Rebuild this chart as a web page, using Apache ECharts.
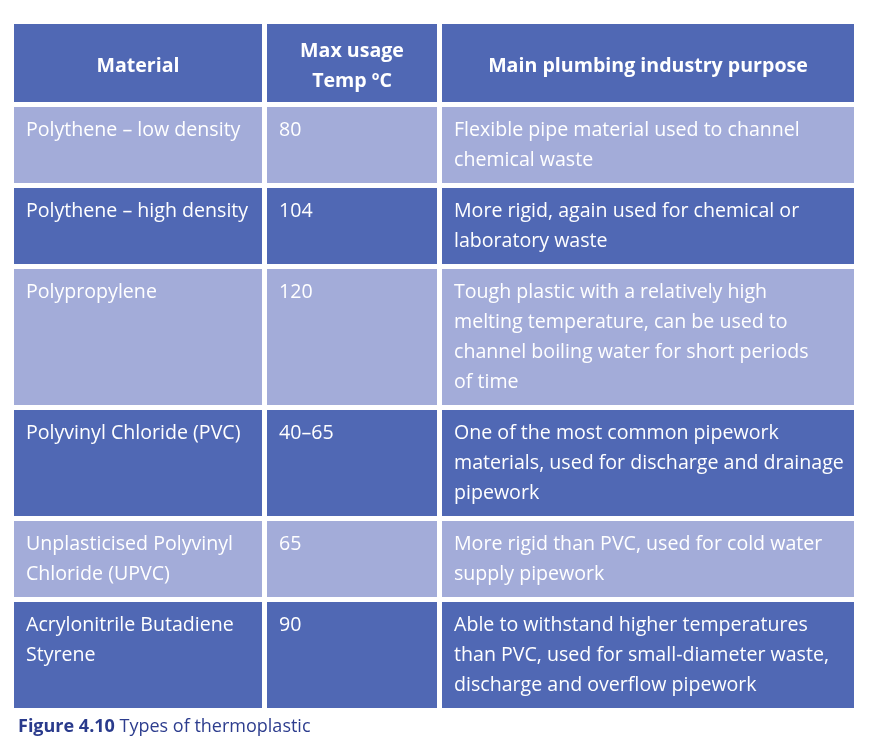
<!DOCTYPE html>
<html>
<head>
<meta charset="utf-8">
<script src="https://cdn.jsdelivr.net/npm/echarts@6/dist/echarts.min.js"></script>
<style>
  html, body { margin: 0; padding: 0; background: #ffffff; }
  #chart { width: 872px; height: 756px; }
</style>
</head>
<body>
<div id="chart"></div>
<script>
// table content, line breaks as printed
const headers = ['Material', 'Max usage\nTemp ºC', 'Main plumbing industry purpose'];
const materials = [
  'Polythene – low density',
  'Polythene – high density',
  'Polypropylene',
  'Polyvinyl Chloride (PVC)',
  'Unplasticised Polyvinyl\nChloride (UPVC)',
  'Acrylonitrile Butadiene\nStyrene'
];
const temps = ['80', '104', '120', '40–65', '65', '90'];
const purposes = [
  'Flexible pipe material used to channel\nchemical waste',
  'More rigid, again used for chemical or\nlaboratory waste',
  'Tough plastic with a relatively high\nmelting temperature, can be used to\nchannel boiling water for short periods\nof time',
  'One of the most common pipework\nmaterials, used for discharge and drainage\npipework',
  'More rigid than PVC, used for cold water\nsupply pipework',
  'Able to withstand higher temperatures\nthan PVC, used for small-diameter waste,\ndischarge and overflow pipework'
];
const captionBold = 'Figure 4.10';
const captionText = 'Types of thermoplastic';

// layout
const COL_W = [248, 170, 412];
const GAP = 5;
const LINE_H = 30;
const PAD = 16;
const FONT = '"Open Sans", Lato, sans-serif';
const DARK = '#5068b4';
const LIGHT = '#a3acd9';

const rows = [headers].concat(materials.map((m, i) => [m, temps[i], purposes[i]]));
const rowH = rows.map((r, i) => Math.max(...r.map(t => t.split('\n').length)) * LINE_H + PAD + (i === 0 ? 2 : 0));
const rowY = [];
rowH.reduce((y, h, i) => { rowY[i] = y; return y + h + GAP; }, 0);
const totalH = rowY[rowY.length - 1] + rowH[rowH.length - 1];
const colX = [];
COL_W.reduce((x, w, i) => { colX[i] = x; return x + w + GAP; }, 0);
const totalW = colX[colX.length - 1] + COL_W[COL_W.length - 1];

const cells = [];
rows.forEach((r, ri) => r.forEach((t, ci) => cells.push([ci, ri, t])));

const chart = echarts.init(document.getElementById('chart'));
chart.setOption({
  animation: false,
  title: {
    text: '{b|' + captionBold + '} ' + captionText,
    left: 13,
    top: 713,
    textStyle: {
      fontFamily: FONT,
      fontSize: 18,
      fontWeight: 'normal',
      color: '#2d3d8e',
      rich: { b: { fontFamily: FONT, fontSize: 18, fontWeight: 'bold', color: '#2a3b8c' } }
    }
  },
  grid: { left: 14, top: 24, width: totalW, height: totalH },
  xAxis: { type: 'value', min: 0, max: totalW, show: false },
  yAxis: { type: 'value', min: 0, max: totalH, inverse: true, show: false },
  series: [{
    type: 'custom',
    data: cells,
    encode: { x: 0, y: 1 },
    renderItem: function (params, api) {
      const c = api.value(0), r = api.value(1);
      const text = cells[params.dataIndex][2];
      const p0 = api.coord([colX[c], rowY[r]]);
      const p1 = api.coord([colX[c] + COL_W[c], rowY[r] + rowH[r]]);
      const isHead = r === 0;
      const lines = text.split('\n').length;
      return {
        type: 'group',
        children: [{
          type: 'rect',
          shape: { x: p0[0], y: p0[1], width: p1[0] - p0[0], height: p1[1] - p0[1] },
          style: { fill: r % 2 === 1 ? LIGHT : DARK }
        }, {
          type: 'text',
          style: isHead ? {
            text: text,
            x: (p0[0] + p1[0]) / 2,
            y: (p0[1] + p1[1]) / 2 - lines * LINE_H / 2 + 3,
            align: 'center',
            verticalAlign: 'top',
            lineHeight: LINE_H,
            font: 'bold 19.6px ' + FONT,
            fill: '#ffffff'
          } : {
            text: text,
            x: p0[0] + 12,
            y: p0[1] + 8,
            align: 'left',
            verticalAlign: 'top',
            lineHeight: LINE_H,
            font: '19.6px ' + FONT,
            fill: '#ffffff'
          }
        }]
      };
    }
  }]
});
</script>
</body>
</html>
